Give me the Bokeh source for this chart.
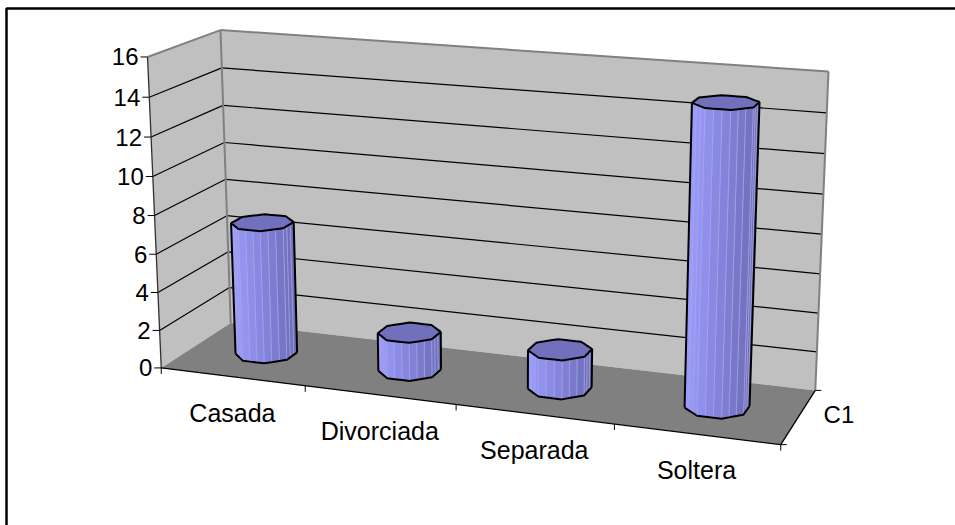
from bokeh.plotting import figure
from bokeh.embed import file_html
from bokeh.resources import INLINE
from bokeh.models import Range1d
from bokeh.core.properties import value
import numpy as np

categories = ["Casada", "Divorciada", "Separada", "Soltera"]
values = [7, 2, 2, 15]
value_ticks = [0, 2, 4, 6, 8, 10, 12, 14, 16]
series_name = "C1"

W, H = 955, 525
FONT = "Liberation Sans"

# Camera fit: model corners (category position, value, depth) -> page position
model = np.array([[0, 0, 0], [0, 16, 0], [0, 0, 1], [0, 16, 1], [4, 0, 1], [4, 16, 1], [4, 0, 0]], float)
page = np.array([[161, 368], [147, 56], [230, 322], [220, 30], [815, 390], [828, 71], [780, 444]], float)
rows = []
for (a, b, c), (u, v) in zip(model, page):
    rows.append([a, b, c, 1, 0, 0, 0, 0, -u*a, -u*b, -u*c, -u])
    rows.append([0, 0, 0, 0, a, b, c, 1, -v*a, -v*b, -v*c, -v])
CAM = np.linalg.svd(np.array(rows))[2][-1].reshape(3, 4)


def proj(a, b, c):
    a, b, c = np.broadcast_arrays(np.asarray(a, float), np.asarray(b, float), np.asarray(c, float))
    q = CAM @ np.vstack([a.ravel(), b.ravel(), c.ravel(), np.ones(a.size)])
    return q[0] / q[2], q[1] / q[2]


p = figure(width=W, height=H, x_range=Range1d(0, W), y_range=Range1d(H, 0),
           output_backend="svg", toolbar_location=None, min_border=0,
           outline_line_color=None, background_fill_color="white", border_fill_color=None)
p.axis.visible = False
p.grid.visible = False
p.styles = {"position": "absolute", "left": "0px", "top": "0px"}


def poly(corners, **kw):
    x, y = proj(*zip(*corners))
    p.patch(list(x), list(y), **kw)


def seg(c0, c1, color="black", width=1.2):
    x, y = proj(*zip(c0, c1))
    p.line(list(x), list(y), line_color=color, line_width=width)


# frame
p.line([6, 6, W], [H, 8, 8], line_color="black", line_width=2.5)

# walls and floor
poly([(0, 0, 0), (0, 16, 0), (0, 16, 1), (0, 0, 1)], fill_color="#C0C0C0", line_color=None)
poly([(0, 0, 1), (0, 16, 1), (4, 16, 1), (4, 0, 1)], fill_color="#C0C0C0", line_color=None)
poly([(0, 0, 0), (0, 0, 1), (4, 0, 1), (4, 0, 0)], fill_color="#808080", line_color=None)

# gridlines
for t in value_ticks[1:-1]:
    seg((0, t, 0), (0, t, 1))
    seg((0, t, 1), (4, t, 1))

# wall edges
seg((0, 16, 0), (0, 16, 1), "#808080", 2)
seg((0, 16, 1), (4, 16, 1), "#808080", 2)
seg((0, 0, 1), (0, 16, 1), "#808080", 2)
seg((4, 0, 1), (4, 16, 1), "#808080", 2)

# axes
seg((0, 0, 0), (0, 16, 0), "#303030", 1.3)
seg((0, 0, 0), (4, 0, 0), "black", 1.3)
seg((4, 0, 0), (4, 0, 1), "black", 1.3)

# value ticks and labels
for t in value_ticks:
    x, y = proj(0, t, 0)
    x0, y0 = float(x[0]), float(y[0])
    p.line([x0 - 7, x0], [y0, y0], line_color="black", line_width=1)
    p.text([x0 - 9], [y0], text=[str(t)], text_font=value(FONT), text_font_size="24px",
           text_align="right", text_baseline="middle", text_color="black")

# category ticks and labels
for i in range(5):
    x, y = proj(i, 0, 0)
    p.line([x[0], x[0]], [y[0], y[0] + 6], line_color="black", line_width=1)
for i, c in enumerate(categories):
    x, y = proj(i + 0.5, 0, 0)
    p.text([x[0]], [y[0] + 36], text=[c], text_font=value(FONT), text_font_size="25px",
           text_align="center", text_baseline="middle", text_color="black")

# depth axis tick and label
for d in (0, 1):
    x, y = proj(4, 0, d)
    p.line([x[0], x[0] + 6], [y[0], y[0]], line_color="black", line_width=1)
x, y = proj(4, 0, 0.5)
p.text([x[0] + 25], [y[0] - 2], text=[series_name], text_font=value(FONT), text_font_size="24px",
       text_align="left", text_baseline="middle", text_color="black")

# cylinders: octagonal outline, each side split into stripes
SIDES, SPLIT = 8, 3
RX, RZ = 0.197, 0.21
corner_ang = (np.arange(SIDES + 1) + 0.5) * 2 * np.pi / SIDES
cxs, czs = np.cos(corner_ang), np.sin(corner_ang)
ux = np.concatenate([np.linspace(cxs[i], cxs[i + 1], SPLIT, endpoint=False) for i in range(SIDES)])
uz = np.concatenate([np.linspace(czs[i], czs[i + 1], SPLIT, endpoint=False) for i in range(SIDES)])
N = len(ux)


def shade(t):
    c0, c1 = np.array([0x9C, 0x9C, 0xFF]), np.array([0x6C, 0x6C, 0xB8])
    r, g, b = (c0 + (c1 - c0) * t).astype(int)
    return f"#{r:02x}{g:02x}{b:02x}"


for i, val in enumerate(values):
    cx, cz = i + 0.5, 0.5
    ax = cx + RX * ux
    az = cz - RZ * uz
    xb, yb = proj(ax, 0, az)
    xt, yt = proj(ax, val, az)
    l, r = int(np.argmin(xb)), int(np.argmax(xb))
    walk = [r]
    while walk[-1] != l:
        walk.append((walk[-1] + 1) % N)
    lo, hi = xb.min(), xb.max()
    for k, j in zip(walk[:-1], walk[1:]):
        t = (0.5 * (xb[k] + xb[j]) - lo) / (hi - lo)
        p.patch([xb[k], xb[j], xt[j], xt[k]], [yb[k], yb[j], yt[j], yt[k]],
                fill_color=shade(t), line_color="#A8A8E8", line_width=0.6)
    # silhouette
    p.line([xb[l], xt[l]], [yb[l], yt[l]], line_color="black", line_width=2)
    p.line([xb[r], xt[r]], [yb[r], yt[r]], line_color="black", line_width=2)
    p.line([xb[k] for k in walk], [yb[k] for k in walk], line_color="black", line_width=2)
    p.patch(list(xt), list(yt), fill_color="#7070BC", line_color="black", line_width=2)

open("out.html", "w").write(file_html(p, INLINE))
